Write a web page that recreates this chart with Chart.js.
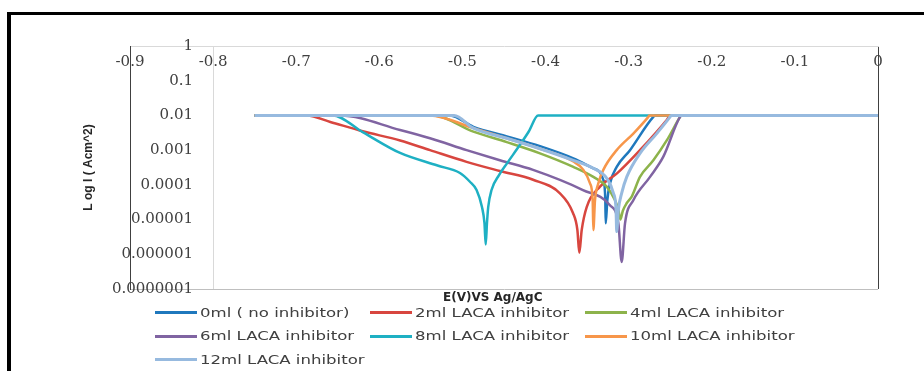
<!DOCTYPE html>
<html>
<head>
<meta charset="utf-8">
<script src="https://cdn.jsdelivr.net/npm/chart.js@4.4.1/dist/chart.umd.min.js"></script>
<style>
  html, body { margin: 0; padding: 0; background: #fff; overflow: hidden; }
  #wrap { position: relative; width: 924px; height: 371px; overflow: hidden; }
  #frame { position: absolute; left: 7px; top: 12px; width: 1000px; height: 500px;
           border-left: 4px solid #000; border-top: 3px solid #000; }
  #chart { position: absolute; left: 0; top: 0; }
  #xtitle { position: absolute; left: 443px; top: 290px; font: bold 12px "DejaVu Sans"; color: #262626; white-space: nowrap; }
  #legend { position: absolute; left: 155px; top: 301px; display: grid;
            grid-template-columns: 215px 215px 215px; grid-auto-rows: 23.5px; }
  .item { display: flex; align-items: center; white-space: nowrap; }
  .sw { width: 42px; height: 3px; margin-right: 3px; flex: none; }
  .txt { font: 12px "DejaVu Sans"; color: #404040; display: inline-block;
         transform: scaleX(1.38); transform-origin: left center; }
</style>
</head>
<body>
<div id="wrap">
  <div id="frame"></div>
  <canvas id="chart" width="924" height="371"></canvas>
  <div id="xtitle">E(V)VS Ag/AgC</div>
  <div id="legend"></div>
</div>
<script>
// noms des séries et couleurs
const names = ["0ml ( no inhibitor)", "2ml LACA inhibitor", "4ml LACA inhibitor",
  "6ml LACA inhibitor", "8ml LACA inhibitor", "10ml LACA inhibitor", "12ml LACA inhibitor"];
const colors = ["#1f78bd", "#d8463f", "#8db34b", "#8064a2", "#1eb0c3", "#f7964a", "#97badf"];

// potentiel E (V) et densité de courant I (A/cm2)
const e0 = [-0.75, -0.515, -0.4868, -0.4467, -0.4067, -0.3666, -0.3425, -0.3305, -0.3281, -0.3276, -0.3257, -0.3225, -0.3144, -0.2984, -0.2703, -0.268, 0];
const i0 = [0.01, 0.01, 0.0047, 0.0025, 0.0013, 0.00058, 0.0003, 0.00014, 0.000036, 0.0000078, 0.000036, 0.00011, 0.00033, 0.001, 0.0091, 0.01, 0.01];

const e2 = [-0.75, -0.687, -0.659, -0.62, -0.575, -0.539, -0.495, -0.455, -0.415, -0.383, -0.367, -0.3617, -0.3594, -0.3565, -0.3505, -0.3345, -0.3144, -0.2864, -0.2542, -0.25, 0];
const i2 = [0.01, 0.01, 0.0065, 0.0035, 0.0019, 0.001, 0.00046, 0.00025, 0.00014, 0.000058, 0.0000155, 0.000005, 0.0000011, 0.000005, 0.000023, 0.000089, 0.00021, 0.001, 0.0074, 0.01, 0.01];

const e4 = [-0.75, -0.535, -0.4868, -0.4467, -0.4067, -0.3666, -0.3425, -0.3264, -0.3164, -0.3125, -0.31, -0.307, -0.3023, -0.2963, -0.2864, -0.2703, -0.2542, -0.2382, -0.237, 0];
const i4 = [0.01, 0.01, 0.0034, 0.0017, 0.00081, 0.00033, 0.00017, 0.000089, 0.000036, 0.00002, 0.00001, 0.000018, 0.00003, 0.000046, 0.00017, 0.00051, 0.0019, 0.0091, 0.01, 0.01];

const e6 = [-0.75, -0.647, -0.575, -0.539, -0.495, -0.455, -0.415, -0.355, -0.3225, -0.3124, -0.3084, -0.3044, -0.2944, -0.2743, -0.2583, -0.2382, -0.236, 0];
const i6 = [0.01, 0.01, 0.0038, 0.0022, 0.001, 0.00051, 0.00027, 0.000071, 0.000026, 0.0000078, 0.0000006, 0.0000078, 0.000036, 0.00017, 0.00065, 0.0091, 0.01, 0.01];

const e8 = [-0.75, -0.656, -0.62, -0.575, -0.53, -0.503, -0.491, -0.483, -0.4765, -0.4735, -0.472, -0.4705, -0.469, -0.465, -0.456, -0.446, -0.431, -0.42, -0.409, 0];
const i8 = [0.01, 0.01, 0.0033, 0.00083, 0.00036, 0.00022, 0.000123, 0.000071, 0.000023, 0.0000079, 0.0000019, 0.0000079, 0.000023, 0.000071, 0.00019, 0.00043, 0.0014, 0.0035, 0.01, 0.01];

const e10 = [-0.75, -0.539, -0.4868, -0.4467, -0.4067, -0.3666, -0.3545, -0.3465, -0.3433, -0.3425, -0.3405, -0.3365, -0.3305, -0.3144, -0.2944, -0.2763, -0.275, 0];
const i10 = [0.01, 0.01, 0.0043, 0.0022, 0.0011, 0.00047, 0.00027, 0.00011, 0.000036, 0.000005, 0.000036, 0.00011, 0.00027, 0.001, 0.003, 0.0091, 0.01, 0.01];

const e12 = [-0.75, -0.51, -0.4868, -0.4467, -0.4067, -0.3666, -0.3425, -0.3264, -0.3184, -0.3152, -0.3144, -0.3124, -0.3084, -0.3023, -0.2864, -0.2663, -0.2502, -0.249, 0];
const i12 = [0.01, 0.01, 0.0043, 0.0022, 0.0011, 0.00051, 0.0003, 0.000155, 0.000058, 0.000019, 0.0000045, 0.000019, 0.000058, 0.00017, 0.00081, 0.003, 0.0091, 0.01, 0.01];

// graduations
const xTicks = [-0.9, -0.8, -0.7, -0.6, -0.5, -0.4, -0.3, -0.2, -0.1, 0];
const xTickLabels = ["-0.9", "-0.8", "-0.7", "-0.6", "-0.5", "-0.4", "-0.3", "-0.2", "-0.1", "0"];
const yTicks = [1e-7, 1e-6, 1e-5, 1e-4, 1e-3, 1e-2, 1e-1, 1];
const yTickLabels = ["0.0000001", "0.000001", "0.00001", "0.0001", "0.001", "0.01", "0.1", "1"];

const series = [[e0, i0], [e2, i2], [e4, i4], [e6, i6], [e8, i8], [e10, i10], [e12, i12]];

function points(e, i) {
  return e.map((x, k) => ({ x: x, y: i[k] }));
}

const tickFont = { family: "DejaVu Serif", size: 15 };
const ctx = document.getElementById("chart").getContext("2d");

// les étiquettes de l'axe Y sont dans la zone du graphe, alignées à droite vers x=193
ctx.font = '15px "DejaVu Serif"';
const widest = Math.max(...yTickLabels.map((t) => ctx.measureText(t).width));
const yLabelPad = 63 - widest;

// seule la verticale -0.8 est grise, 0 sert de bord droit
function xGridColor(c) {
  const v = c.tick ? c.tick.value : null;
  if (v === null) return "rgba(0,0,0,0)";
  if (Math.abs(v + 0.8) < 1e-9) return "#d9d9d9";
  if (Math.abs(v) < 1e-9) return "#404040";
  return "rgba(0,0,0,0)";
}

new Chart(ctx, {
  type: "line",
  data: {
    datasets: series.map((s, k) => ({
      label: names[k],
      data: points(s[0], s[1]),
      borderColor: colors[k],
      backgroundColor: colors[k],
      borderWidth: k === 6 ? 3 : 2.5,
      pointRadius: 0,
      fill: false,
      cubicInterpolationMode: "monotone",
      order: series.length - 1 - k
    }))
  },
  options: {
    responsive: false,
    animation: false,
    layout: { padding: { left: 0, right: 46, top: 26, bottom: 82 } },
    plugins: { legend: { display: false }, tooltip: { enabled: false } },
    scales: {
      x: {
        type: "linear",
        position: "top",
        min: -0.9,
        max: 0,
        afterBuildTicks: (s) => { s.ticks = xTicks.map((v) => ({ value: v })); },
        afterFit: (s) => { s.height = 20; },
        ticks: {
          mirror: true, padding: 7, autoSkip: false, maxRotation: 0,
          color: "#404040", font: tickFont,
          callback: (v, i) => xTickLabels[i]
        },
        grid: { drawTicks: false, color: xGridColor },
        border: { color: "#d9d9d9", width: 1 }
      },
      y: {
        type: "logarithmic",
        min: 1e-7,
        max: 1,
        afterBuildTicks: (s) => { s.ticks = yTicks.map((v) => ({ value: v })); },
        afterFit: (s) => { s.width = 130; },
        ticks: {
          mirror: true, crossAlign: "far", padding: yLabelPad, autoSkip: false,
          color: "#404040", font: tickFont,
          callback: (v, i) => yTickLabels[i]
        },
        grid: {
          drawTicks: false,
          color: (c) => (c.tick && c.tick.value === 1e-7 ? "#bfbfbf" : "rgba(0,0,0,0)")
        },
        border: { color: "#404040", width: 1 },
        title: {
          display: true,
          text: "L og I ( Acm^2)",
          color: "#262626",
          font: { family: "Liberation Sans", size: 12, weight: "bold" },
          padding: { top: 81, bottom: 0 }
        }
      }
    }
  }
});

// légende en HTML, 3 colonnes comme dans Excel
const $legend = document.getElementById("legend");
names.forEach((n, k) => {
  const item = document.createElement("div");
  item.className = "item";
  const sw = document.createElement("span");
  sw.className = "sw";
  sw.style.background = colors[k];
  const txt = document.createElement("span");
  txt.className = "txt";
  txt.textContent = n;
  item.appendChild(sw);
  item.appendChild(txt);
  $legend.appendChild(item);
});
</script>
</body>
</html>
